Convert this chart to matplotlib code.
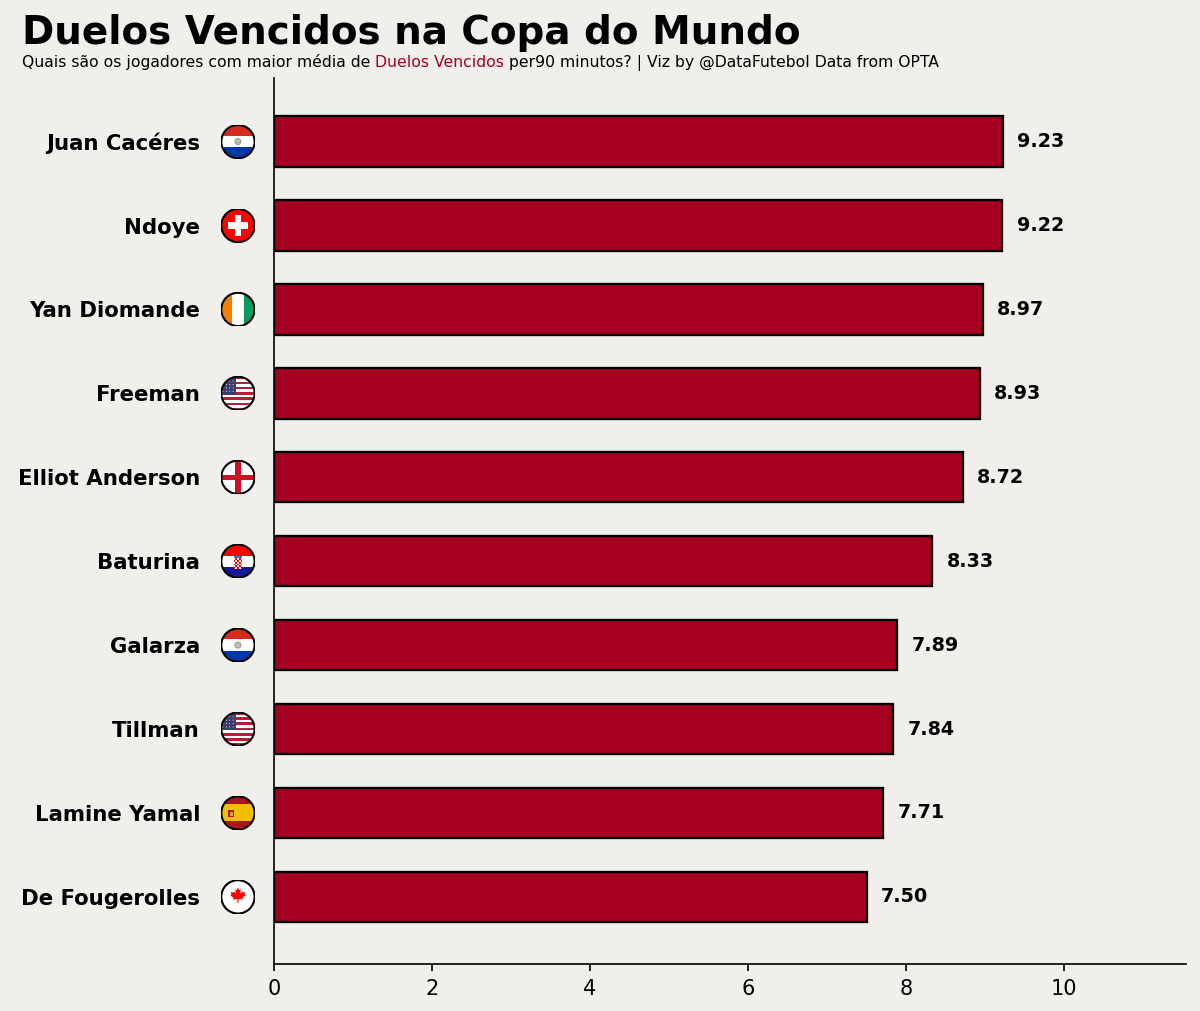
import matplotlib
matplotlib.use("Agg")
import matplotlib.pyplot as plt
import numpy as np
from matplotlib.patches import Rectangle, Circle, Polygon

plt.rcParams["font.family"] = ["DejaVu Sans"]

# Dados
players = ["Juan Cacéres", "Ndoye", "Yan Diomande", "Freeman", "Elliot Anderson",
           "Baturina", "Galarza", "Tillman", "Lamine Yamal", "De Fougerolles"]
values = [9.23, 9.22, 8.97, 8.93, 8.72, 8.33, 7.89, 7.84, 7.71, 7.50]
countries = ["PAR", "SUI", "CIV", "USA", "ENG", "CRO", "PAR", "USA", "ESP", "CAN"]
x_ticks = [0, 2, 4, 6, 8, 10]

BG = "#F0EFEB"
BAR = "#A50021"


def draw_flag(fax, code):
    fax.set_xlim(0, 1)
    fax.set_ylim(0, 1)
    fax.set_aspect("equal")
    fax.axis("off")
    clip = Circle((0.5, 0.5), 0.5, transform=fax.transData)
    shapes = []

    def rect(x, y, w, h, c):
        shapes.append(Rectangle((x, y), w, h, facecolor=c, edgecolor="none"))

    if code == "PAR":
        rect(0, 2/3, 1, 1/3, "#D52B1E")
        rect(0, 1/3, 1, 1/3, "white")
        rect(0, 0, 1, 1/3, "#0038A8")
        shapes.append(Circle((0.5, 0.5), 0.09, facecolor="#B8BFA8", edgecolor="#8E9A7A", lw=0.4))
    elif code == "SUI":
        rect(0, 0, 1, 1, "#FF0000")
        rect(0.4, 0.2, 0.2, 0.6, "white")
        rect(0.2, 0.4, 0.6, 0.2, "white")
    elif code == "CIV":
        rect(0, 0, 1/3, 1, "#F77F00")
        rect(1/3, 0, 1/3, 1, "white")
        rect(2/3, 0, 1/3, 1, "#009E60")
    elif code == "USA":
        for i in range(13):
            rect(0, 1 - (i + 1) / 13, 1, 1 / 13, "#B22234" if i % 2 == 0 else "white")
        rect(0, 6/13, 0.45, 7/13, "#3C3B6E")
        for r in range(4):
            for c in range(4):
                shapes.append(Circle((0.06 + c * 0.1, 0.56 + r * 0.1), 0.015,
                                     facecolor="white", edgecolor="none"))
    elif code == "ENG":
        rect(0, 0, 1, 1, "white")
        rect(0.42, 0, 0.16, 1, "#CE1124")
        rect(0, 0.42, 1, 0.16, "#CE1124")
    elif code == "CRO":
        rect(0, 2/3, 1, 1/3, "#FF0000")
        rect(0, 1/3, 1, 1/3, "white")
        rect(0, 0, 1, 1/3, "#171796")
        s = 0.05
        for r in range(6):
            for c in range(5):
                col = "#FF0000" if (r + c) % 2 == 0 else "white"
                rect(0.375 + c * s, 0.28 + r * s, s, s, col)
        rect(0.375, 0.58, 0.25, 0.08, "#3E6FC8")
    elif code == "ESP":
        rect(0, 0.75, 1, 0.25, "#AA151B")
        rect(0, 0.25, 1, 0.5, "#F1BF00")
        rect(0, 0, 1, 0.25, "#AA151B")
        rect(0.22, 0.38, 0.16, 0.22, "#AD1519")
        rect(0.26, 0.42, 0.08, 0.12, "#C8A040")
    elif code == "CAN":
        rect(0, 0, 1, 1, "white")
        right = [(0, 1.0), (0.12, 0.78), (0.25, 0.85), (0.2, 0.45), (0.38, 0.65),
                 (0.43, 0.55), (0.68, 0.6), (0.6, 0.35), (0.7, 0.3), (0.4, 0.05),
                 (0.45, -0.08), (0.05, -0.05), (0.05, -0.4), (0, -0.4)]
        left = [(-x, y) for x, y in right[::-1]]
        pts = [(0.5 + 0.32 * x, 0.45 + 0.32 * y) for x, y in right + left]
        shapes.append(Polygon(pts, closed=True, facecolor="#FF0000", edgecolor="none"))

    for p in shapes:
        fax.add_patch(p)
        p.set_clip_path(clip)
    fax.add_patch(Circle((0.5, 0.5), 0.49, facecolor="none", edgecolor="black", lw=1.0))


fig = plt.figure(figsize=(8, 6.74), dpi=150, facecolor=BG)
ax = fig.add_axes([0.2283, 0.0465, 0.988 - 0.2283, 0.923 - 0.0465])
ax.set_facecolor(BG)

y_pos = np.arange(len(players))
ax.barh(y_pos, values, height=0.6, color=BAR, edgecolor="black", linewidth=1.1, zorder=2)

for yi, v in zip(y_pos, values):
    ax.text(v + 0.18, yi, "%.2f" % v, ha="left", va="center",
            fontsize=9.2, fontweight="bold", color="black")

ax.set_xlim(0, max(values) * 1.25)
ax.set_ylim(9.8, -0.76)
ax.set_xticks(x_ticks)
ax.set_xticklabels([str(t) for t in x_ticks], fontsize=10)
ax.set_yticks(y_pos)
ax.set_yticklabels(players, fontsize=10.2, fontweight="bold")
ax.tick_params(axis="y", length=0, pad=35.5)

for side in ["top", "right"]:
    ax.spines[side].set_visible(False)

# Bandeiras
fig_w, fig_h = fig.get_size_inches() * fig.dpi
flag_px = 34
for yi, code in zip(y_pos, countries):
    x_disp, y_disp = ax.transData.transform((0, yi))
    cx = x_disp - 36
    fax = fig.add_axes([(cx - flag_px / 2) / fig_w, (y_disp - flag_px / 2) / fig_h,
                        flag_px / fig_w, flag_px / fig_h])
    draw_flag(fax, code)

# Titulo
fig.text(0.0183, 0.9565, "Duelos Vencidos na Copa do Mundo", fontsize=18.7,
         fontweight="bold", ha="left", va="baseline")

# Subtitulo em partes
parts = [("Quais são os jogadores com maior média de ", "black"),
         ("Duelos Vencidos", BAR),
         (" per90 minutos? | Viz by @DataFutebol Data from OPTA", "black")]
renderer = fig.canvas.get_renderer()
x_cur = 0.0183
for txt, col in parts:
    t = fig.text(x_cur, 0.9337, txt, fontsize=7.5, color=col, ha="left", va="baseline")
    bb = t.get_window_extent(renderer=renderer)
    x_cur = bb.x1 / fig_w

fig.savefig("out.png", dpi=150, facecolor=BG)
